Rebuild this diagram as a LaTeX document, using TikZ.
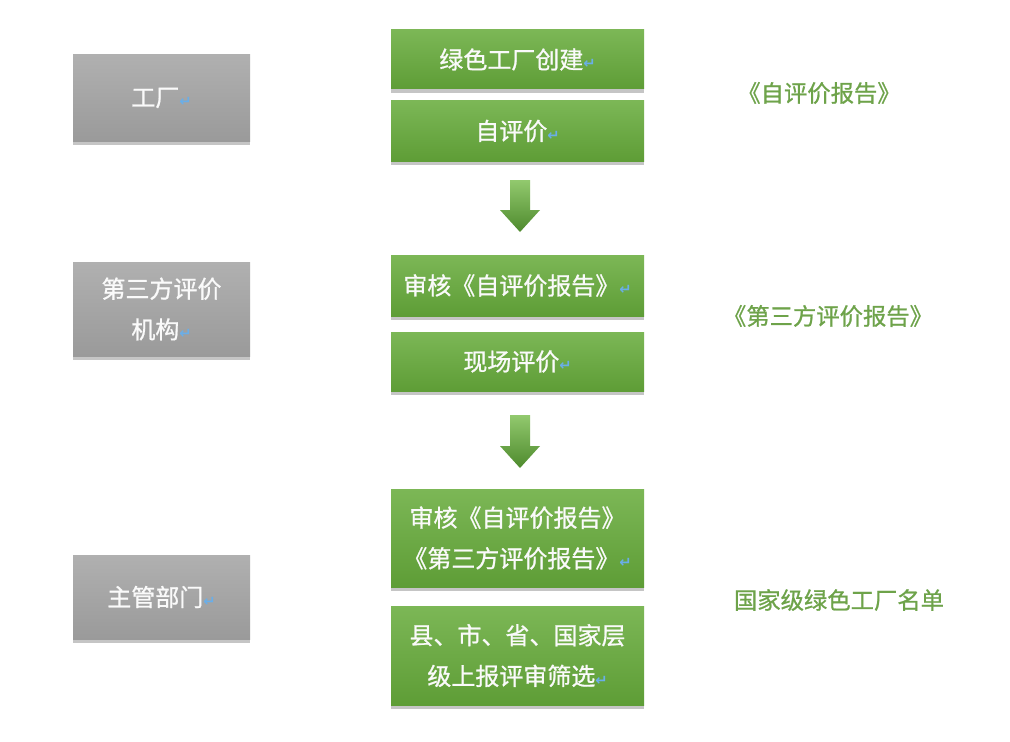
\documentclass[tikz,border=0pt]{standalone}
\usepackage{fontspec}
\setmainfont{Noto Sans CJK SC}
\newfontfamily\medcjk{Noto Sans CJK SC}[FakeBold=0.9]
\newfontfamily\dv{DejaVu Sans}
\usetikzlibrary{shadows}
\definecolor{gtop}{HTML}{7CB756}
\definecolor{gbot}{HTML}{5E9D36}
\definecolor{grtop}{HTML}{B0B0B0}
\definecolor{grbot}{HTML}{9A9A9A}
\definecolor{atop}{HTML}{92C96E}
\definecolor{abot}{HTML}{4E8A2D}
\definecolor{rtext}{HTML}{6EA34A}
\definecolor{pm}{HTML}{6AAEE8}
\newcommand\pmk{{\dv\bfseries\color{pm}\fontsize{11}{11}\selectfont↵}}
\tikzset{
  box/.style={rectangle, inner sep=0pt, text=white!96!gray,
    font=\medcjk\fontsize{18}{30.5}\selectfont, align=center,
    drop shadow={shadow xshift=0pt, shadow yshift=-3pt, opacity=0.45}},
  greenbox/.style={box, top color=gtop, bottom color=gbot, draw=none,
    minimum width=189.75pt},
  graybox/.style={box, top color=grtop, bottom color=grbot, draw=none,
    minimum width=132.75pt},
  rlabel/.style={text=rtext, font=\medcjk\fontsize{17.5}{20}\selectfont},
  fatarrow/.style={top color=atop, bottom color=abot, draw=none}
}
\begin{document}
\begin{tikzpicture}[x=0.75pt,y=-0.75pt]
\useasboundingbox[fill=white] (0,0) rectangle (1010,742);
% gray boxes
\node[graybox, minimum height=64.5pt] (factory) at (161.5,98) {工厂\pmk};
\node[graybox, minimum height=70.5pt] (third) at (161.5,309) {第三方评价\\机构\pmk};
\node[graybox, minimum height=63pt] (gov) at (161.5,597) {主管部门\pmk};
% green boxes
\node[greenbox, minimum height=44.25pt] (g1) at (517.5,59.5) {绿色工厂创建\pmk};
\node[greenbox, minimum height=45pt] (g2) at (517.5,131) {自评价\pmk};
\node[greenbox, minimum height=45.75pt] (g3) at (517.5,285.5) {审核《自评价报告》\pmk};
\node[greenbox, minimum height=44.25pt] (g4) at (517.5,361.5) {现场评价\pmk};
\node[greenbox, minimum height=73.5pt] (g5) at (517.5,538) {审核《自评价报告》\\《第三方评价报告》\pmk};
\node[greenbox, minimum height=74.25pt] (g6) at (517.5,655.5) {县、市、省、国家层\\级上报评审筛选\pmk};
% arrows
\path[fatarrow] (510,180) -- (530,180) -- (530,210) -- (540,210) -- (520,232) -- (500,210) -- (510,210) -- cycle;
\path[fatarrow] (510,415) -- (530,415) -- (530,446) -- (540,446) -- (520,468) -- (500,446) -- (510,446) -- cycle;
% right labels
\node[rlabel] (r1) at (819,93) {《自评价报告》};
\node[rlabel] (r2) at (828,316) {《第三方评价报告》};
\node[rlabel] (r3) at (839,600) {国家级绿色工厂名单};
\end{tikzpicture}
\end{document}
